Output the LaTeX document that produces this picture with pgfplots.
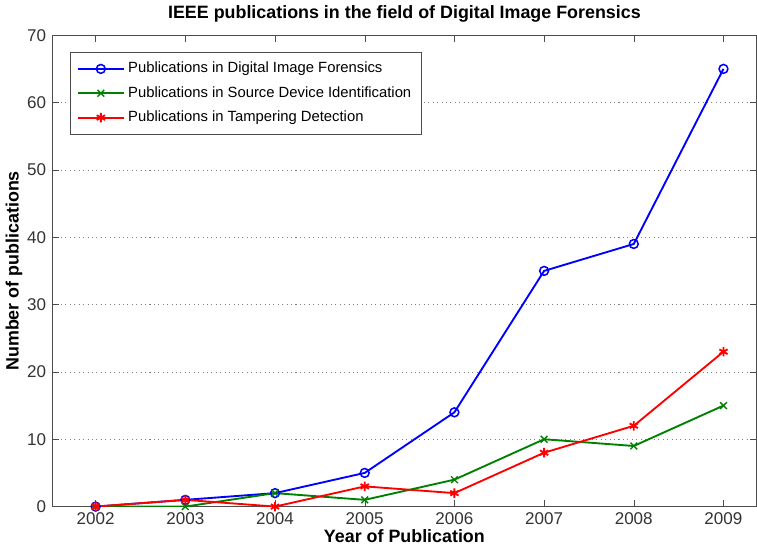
\documentclass[border=0pt]{standalone}
\usepackage{pgfplots}
\pgfplotsset{compat=1.18}
\usepackage{fontspec}
\setmainfont{Liberation Sans}
\begin{document}
\begin{tikzpicture}
\begin{axis}[
  scale only axis,
  width=414pt, height=277pt,
  xmin=2001.515, xmax=2009.37,
  ymin=0, ymax=70,
  xtick={2002,...,2009},
  ytick={0,10,...,70},
  xticklabel style={/pgf/number format/set thousands separator={}},
  /pgf/number format/assume math mode=true,
  tick align=inside,
  tick pos=both,
  major tick length=4pt,
  ymajorgrids,
  grid style={black!50, dash pattern=on 0.6pt off 2pt},
  axis line style={black!70},
  tick style={black!70},
  tick label style={font=\fontsize{10}{12}\selectfont, text=black!80},
  title={\bfseries IEEE publications in the field of Digital Image Forensics},
  title style={font=\fontsize{10.5}{12}\selectfont, yshift=-2pt},
  xlabel={\bfseries Year of Publication},
  ylabel={\bfseries Number of publications},
  label style={font=\fontsize{10.5}{12}\selectfont},
  xlabel style={yshift=4pt},
  ylabel style={yshift=-4pt},
  legend style={at={(0.025,0.965)}, anchor=north west, font=\fontsize{8.7}{10}\selectfont, draw=black!70, row sep=2.5pt, inner xsep=4pt, inner ysep=4pt},
  legend cell align=left,
  legend image code/.code={\draw[#1] (0cm,0cm) -- (0.95cm,0cm); \draw[#1, only marks] plot coordinates {(0.475cm,0cm)};},
]
\addplot[blue, line width=1.1pt, mark=o, mark size=2.6pt, mark options={solid, line width=0.9pt}] coordinates {
(2002,0) (2003,1) (2004,2) (2005,5) (2006,14) (2007,35) (2008,39) (2009,65)};
\addlegendentry{Publications in Digital Image Forensics}
\addplot[green!50!black, line width=1.1pt, mark=x, mark size=2.8pt, mark options={line width=0.8pt}] coordinates {
(2002,0) (2003,0) (2004,2) (2005,1) (2006,4) (2007,10) (2008,9) (2009,15)};
\addlegendentry{Publications in Source Device Identification}
\addplot[red, line width=1.1pt, mark=asterisk, mark size=2.8pt, mark options={line width=1.1pt}] coordinates {
(2002,0) (2003,1) (2004,0) (2005,3) (2006,2) (2007,8) (2008,12) (2009,23)};
\addlegendentry{Publications in Tampering Detection}
\end{axis}
\end{tikzpicture}
\end{document}
